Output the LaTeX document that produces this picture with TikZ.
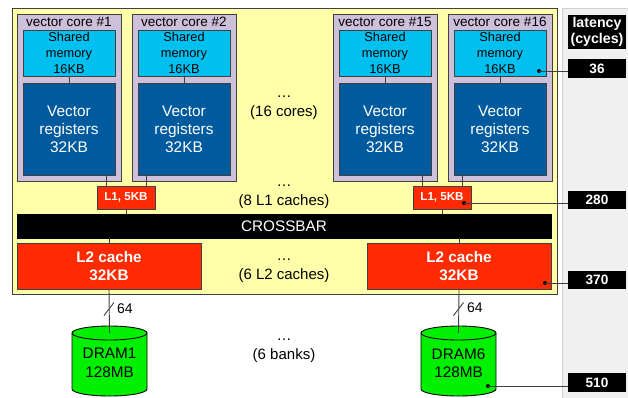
\documentclass[tikz,border=0pt]{standalone}
\usepackage{fontspec}
\setmainfont{Liberation Sans}
\usetikzlibrary{calc}
\definecolor{yel}{HTML}{FFFFAA}
\definecolor{lav}{HTML}{CCC0DA}
\definecolor{memc}{HTML}{00C0F0}
\definecolor{vregc}{HTML}{005A9E}
\definecolor{redc}{HTML}{FF2A00}
\definecolor{dramc}{HTML}{00F000}
\definecolor{panelc}{HTML}{F0F0F0}
\definecolor{edge}{HTML}{404040}
\begin{document}
\begin{tikzpicture}[x=1pt,y=-1pt,
  box/.style={draw=edge, line width=0.9pt, inner sep=0pt, outer sep=0pt, anchor=north west, align=center},
  corebox/.style={box, fill=lav, minimum width=104pt, minimum height=167pt},
  membox/.style={box, fill=memc, minimum width=92pt, minimum height=46pt, font=\fontsize{12.8}{15.6}\selectfont},
  vrbox/.style={box, fill=vregc, minimum width=92pt, minimum height=92pt, text=white, font=\fontsize{15.4}{18}\selectfont},
  l1box/.style={box, fill=redc, minimum width=58pt, minimum height=23pt, text=white, font=\bfseries\fontsize{11.6}{14}\selectfont},
  l2box/.style={box, fill=redc, minimum width=184pt, minimum height=46pt, text=white, font=\bfseries\fontsize{15.3}{17.5}\selectfont},
  latbox/.style={fill=black, inner sep=0pt, outer sep=0pt, anchor=north west, minimum width=58pt, text=white, align=center, font=\bfseries\fontsize{13.6}{16}\selectfont},
  corelabel/.style={font=\fontsize{13.5}{16}\selectfont, inner sep=0pt},
  note/.style={font=\fontsize{15}{18.5}\selectfont, align=center, inner sep=0pt},
  conn/.style={draw=edge, line width=0.9pt},
  dot/.style={fill=black, circle, inner sep=0pt, minimum size=4pt}
]
\useasboundingbox (0,0) rectangle (628,397);
% right panel
\path[fill=panelc, draw=black!18, line width=0.8pt] (562,8) rectangle (632,402);
% outer chip
\node[box, fill=yel, minimum width=545pt, minimum height=286pt] (chip) at (12,8) {};

% cores
\node[corebox] (c1) at (17,14) {};
\node[corebox] (c2) at (132,14) {};
\node[corebox] (c15) at (333,14) {};
\node[corebox] (c16) at (448,14) {};
\foreach \c/\t in {c1/1,c2/2,c15/15,c16/16}{
  \node[corelabel] (lab\c) at ($(\c.north)+(0,8)$) {vector core \#\t};
}
\foreach \c/\x in {1/23,2/138,15/339,16/454}{
  \node[membox] (m\c) at (\x,30) {Shared\\memory\\16KB};
  \node[vrbox] (v\c) at (\x,83) {Vector\\registers\\32KB};
  \draw[conn] (m\c.south) -- (v\c.north);
}

% L1 caches
\node[l1box] (l1a) at (97,186) {L1, 5KB};
\node[l1box] (l1b) at (413,186) {L1, 5KB};
\draw[conn] ([xshift=9pt]l1a.north west) -- ([xshift=9pt]l1a.north west |- v1.south);
\draw[conn] ([xshift=-9pt]l1a.north east) -- ([xshift=-9pt]l1a.north east |- v2.south);
\draw[conn] ([xshift=9pt]l1b.north west) -- ([xshift=9pt]l1b.north west |- v15.south);
\draw[conn] ([xshift=-9pt]l1b.north east) -- ([xshift=-9pt]l1b.north east |- v16.south);

% crossbar
\node[box, draw=black, fill=black, minimum width=534pt, minimum height=24pt, text=white, font=\fontsize{15.3}{18}\selectfont] (xbar) at (17,214) {CROSSBAR};
\draw[conn] (l1a.south) -- (l1a.south |- xbar.north);
\draw[conn] (l1b.south) -- (l1b.south |- xbar.north);

% L2 caches
\node[l2box] (l2a) at (17,243) {L2 cache\\32KB};
\node[l2box] (l2b) at (367,243) {L2 cache\\32KB};
\draw[conn] (l2a.north |- xbar.south) -- (l2a.north);
\draw[conn] (l2b.north |- xbar.south) -- (l2b.north);

% notes
\node[note] (n1) at (284,107.5) {…\\(16 cores)};
\node[note] (n2) at (284,196.5) {…\\(8 L1 caches)};
\node[note] (n3) at (284,270.5) {…\\(6 L2 caches)};
\node[note] (n4) at (284,350.5) {…\\(6 banks)};

% DRAM cylinders
\foreach \n/\cx in {1/109.5,6/458.5}{
  \path[fill=dramc, draw=black, line width=0.9pt]
    (\cx-37.5,333) -- (\cx-37.5,389)
    arc[start angle=180, end angle=360, x radius=37.5pt, y radius=7pt]
    -- (\cx+37.5,333)
    arc[start angle=0, end angle=180, x radius=37.5pt, y radius=7pt] -- cycle;
  \draw[black, line width=0.9pt] (\cx-37.5,333)
    arc[start angle=180, end angle=360, x radius=37.5pt, y radius=7pt];
  \coordinate (d\n top) at (\cx,333);
  \node[font=\fontsize{15.3}{18.5}\selectfont, align=center, inner sep=0pt] (d\n) at (\cx,363) {DRAM\n\\128MB};
}
\draw[conn] (l2a.south) -- (d1top);
\draw[conn] (l2b.south) -- (d6top);
% bus width marks
\draw[conn] (104,315.5) -- (114,302.5);
\node[anchor=west, inner sep=0pt, font=\fontsize{14}{16}\selectfont] (w1) at (117,309) {64};
\draw[conn] (453.5,315.5) -- (463.5,302.5);
\node[anchor=west, inner sep=0pt, font=\fontsize{14}{16}\selectfont] (w6) at (467,308) {64};

% latency column
\node[latbox, minimum height=34pt, font=\bfseries\fontsize{14.2}{16}\selectfont] (lath) at (568,15) {latency\\(cycles)};
\node[latbox, minimum height=19pt] (lat36) at (568,59) {36};
\node[latbox, minimum height=18pt] (lat280) at (568,191) {280};
\node[latbox, minimum height=18pt] (lat370) at (568,271) {370};
\node[latbox, minimum height=19pt] (lat510) at (568,373) {510};

\coordinate (p36) at (539,71);
\coordinate (p280) at (464,203);
\coordinate (p370) at (545,283);
\coordinate (p510) at (488,386);
\foreach \p in {36,280,370,510}{
  \node[dot] at (p\p) {};
  \draw[conn] (p\p) -- (p\p -| lat\p.west);
}
\end{tikzpicture}
\end{document}
